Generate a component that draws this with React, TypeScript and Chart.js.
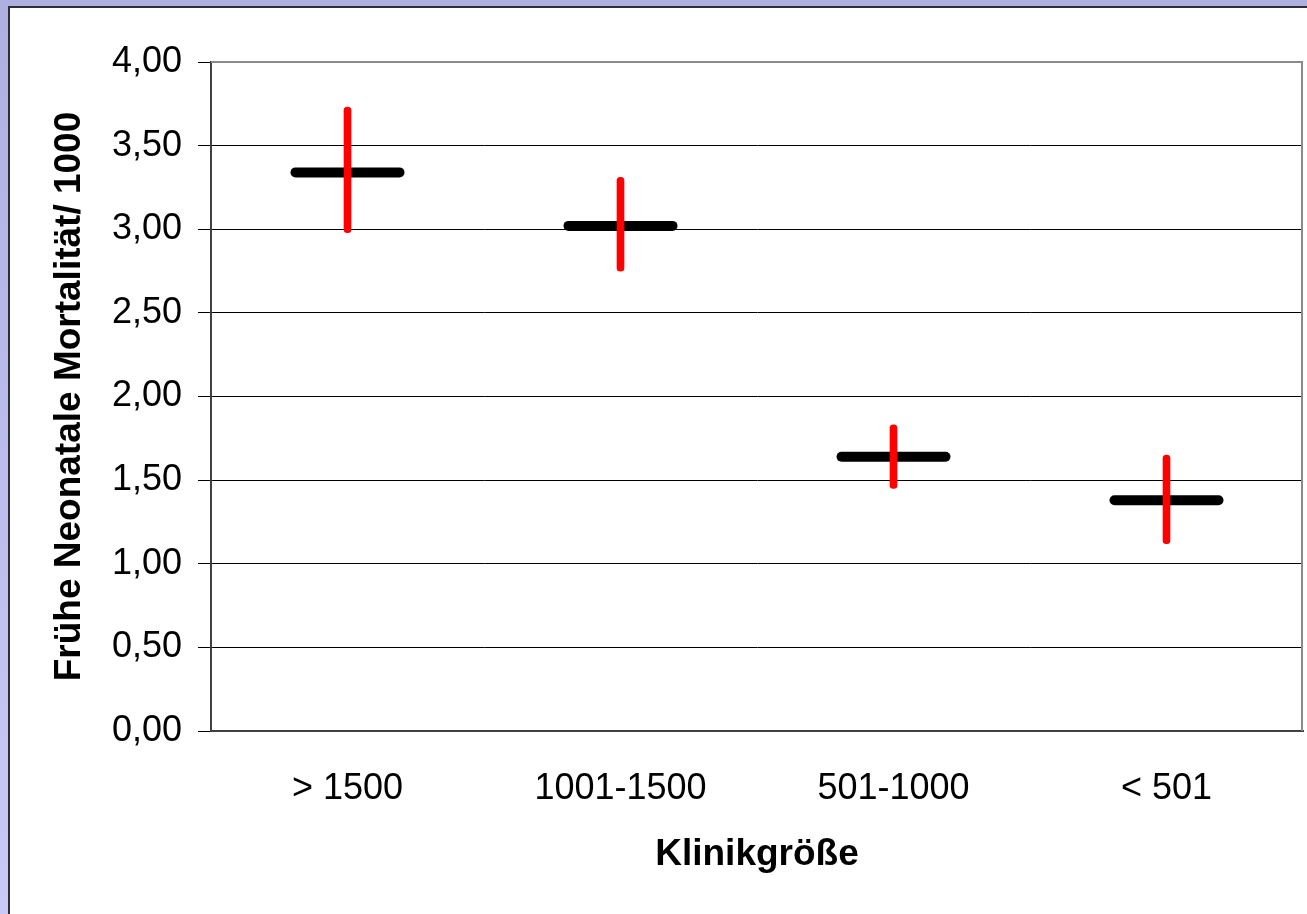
import React, { useEffect, useRef } from "react";
import { Chart, registerables } from "chart.js";

Chart.register(...registerables);

const categories = ["> 1500", "1001-1500", "501-1000", "< 501"];
const means = [3.34, 3.02, 1.64, 1.38];
const ciLow = [2.98, 2.75, 1.45, 1.12];
const ciHigh = [3.73, 3.31, 1.83, 1.65];
const yTitle = "Frühe Neonatale Mortalität/ 1000";
const xTitle = "Klinikgröße";

const FONT = "'Liberation Sans', Arial, Helvetica, sans-serif";

const framePlugin = {
  id: "frame",
  beforeDatasetsDraw(chart: any) {
    const { ctx, chartArea } = chart;
    ctx.save();
    ctx.strokeStyle = "#8a8a8a";
    ctx.lineWidth = 2;
    ctx.beginPath();
    ctx.moveTo(chartArea.left, chartArea.top);
    ctx.lineTo(chartArea.right - 1, chartArea.top);
    ctx.lineTo(chartArea.right - 1, chartArea.bottom);
    ctx.stroke();
    ctx.restore();
  },
  beforeDatasetDraw(chart: any) {
    chart.ctx.lineCap = "round";
  },
  afterDatasetDraw(chart: any) {
    chart.ctx.lineCap = "butt";
  },
};

export default function App() {
  const ref = useRef<HTMLCanvasElement | null>(null);

  useEffect(() => {
    if (!ref.current) return;
    const chart = new Chart(ref.current, {
      type: "bar",
      data: {
        labels: categories,
        datasets: [
          {
            type: "bar",
            label: "CI",
            data: categories.map((_, i) => [ciLow[i], ciHigh[i]]) as any,
            backgroundColor: "#ff0000",
            borderWidth: 0,
            borderRadius: 3.5,
            borderSkipped: false,
            barThickness: 7,
            order: 0,
          } as any,
          {
            type: "line",
            label: "Mittelwert",
            data: means,
            showLine: false,
            pointStyle: "line",
            pointRadius: 52,
            pointHoverRadius: 52,
            pointBorderWidth: 10,
            pointHoverBorderWidth: 10,
            pointBorderColor: "#000000",
            pointBackgroundColor: "#000000",
            order: 1,
          } as any,
        ],
      },
      options: {
        animation: false,
        responsive: false,
        devicePixelRatio: 1,
        layout: { autoPadding: false, padding: { top: 62, right: 4, left: 0, bottom: 0 } },
        plugins: {
          legend: { display: false },
          tooltip: { enabled: false },
        },
        scales: {
          x: {
            offset: true,
            grid: { display: false, drawTicks: false },
            border: { display: true, color: "#404040", width: 2 },
            ticks: {
              color: "#000",
              padding: 36,
              font: { family: FONT, size: 36 },
            },
            title: {
              display: true,
              text: xTitle,
              color: "#000",
              font: { family: FONT, size: 37, weight: "bold" },
              padding: { top: 0, bottom: 37 },
            },
            afterFit: (s: any) => {
              s.height = 183;
              s.paddingLeft = 0;
              s.paddingRight = 0;
            },
          },
          y: {
            min: 0,
            max: 4,
            ticks: {
              stepSize: 0.5,
              color: "#000",
              padding: 16,
              font: { family: FONT, size: 36 },
              callback: (v: any) => Number(v).toFixed(2).replace(".", ","),
            },
            grid: {
              color: (c: any) => (c.tick && c.tick.value === 4 ? "rgba(0,0,0,0)" : "#000"),
              tickColor: "#000",
              lineWidth: 1,
              tickLength: 13,
              drawTicks: true,
            },
            border: { display: true, color: "#404040", width: 2 },
            title: {
              display: true,
              text: yTitle,
              color: "#000",
              font: { family: FONT, size: 37, weight: "bold" },
              padding: { top: 48, bottom: 0 },
            },
            afterFit: (s: any) => {
              s.width = 211;
            },
          },
        },
      },
      plugins: [framePlugin],
    });
    return () => chart.destroy();
  }, []);

  return (
    <div
      style={{
        position: "fixed",
        left: 0,
        top: 0,
        width: 1307,
        height: 914,
        background: "linear-gradient(to bottom, #aeb0e0 0%, #c9c9f7 100%)",
        overflow: "hidden",
      }}
    >
      <div
        style={{
          position: "absolute",
          left: 8,
          top: 6,
          right: 0,
          bottom: 0,
          background: "#ffffff",
          borderLeft: "2px solid #2e2e3a",
          borderTop: "2px solid #2e2e3a",
        }}
      />
      <canvas
        ref={ref}
        width={1307}
        height={914}
        style={{ position: "absolute", left: 0, top: 0, width: 1307, height: 914, display: "block" }}
      />
    </div>
  );
}
